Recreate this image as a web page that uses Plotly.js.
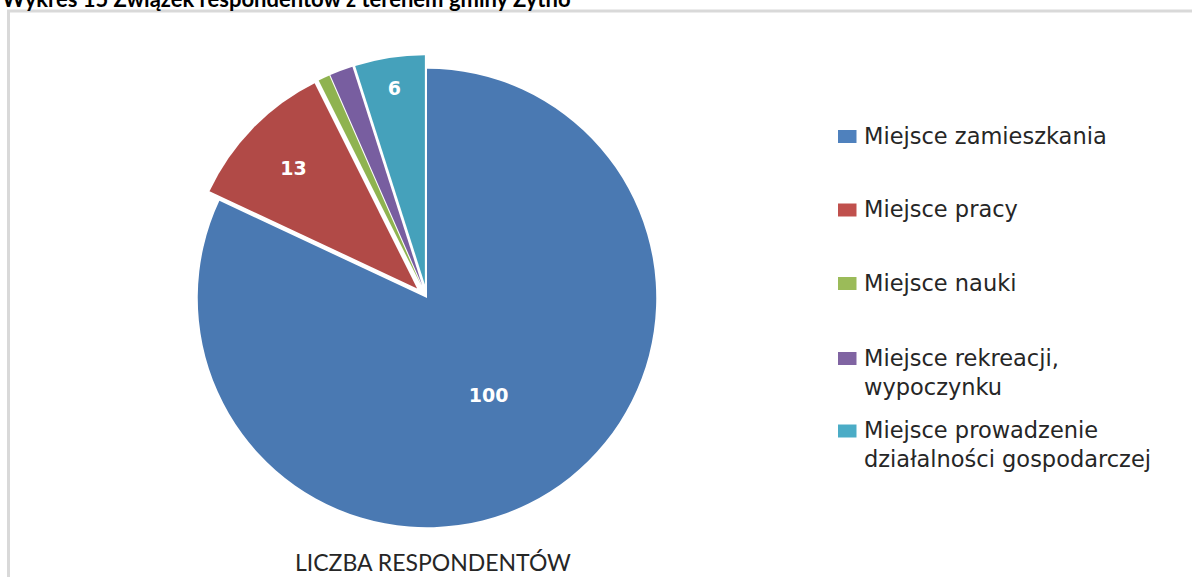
<!DOCTYPE html>
<html>
<head>
<meta charset="utf-8">
<script src="https://cdn.plot.ly/plotly-3.0.1.min.js"></script>
<style>
  html, body { margin: 0; padding: 0; background: #ffffff; }
  #chart { width: 1192px; height: 577px; }
</style>
</head>
<body>
<div id="chart"></div>
<script>
// ---- data ----
const chartTitle = 'Wykres 15 Związek respondentów z terenem gminy Żytno';
const seriesName = 'LICZBA RESPONDENTÓW';
const labels = [
  'Miejsce zamieszkania',
  'Miejsce pracy',
  'Miejsce nauki',
  'Miejsce rekreacji,<br>wypoczynku',
  'Miejsce prowadzenie<br>działalności gospodarczej'
];
const values = [100, 13, 1, 2, 6];

// ---- styles ----
const sliceColors = ['#4a79b2', '#b14a47', '#8fb350', '#785ea0', '#45a1bb'];
const keyColors   = ['#4f81bd', '#c0504d', '#9bbb59', '#8064a2', '#4bacc6'];

const W = 1192, H = 577;
const px = x => x / W;
const py = y => 1 - y / H;

// pie geometry (pixels)
const cx = 427, cy = 298, box = 486;

const pie = {
  type: 'pie',
  labels: labels,
  values: values,
  sort: false,
  direction: 'clockwise',
  rotation: 0,
  pull: values.map((v, i) => i === 0 ? 0 : 0.06),
  marker: { colors: sliceColors, line: { width: 0 } },
  texttemplate: values.map(v => v >= 5 ? '%{value}' : ''),
  textposition: 'inside',
  insidetextorientation: 'horizontal',
  textfont: { family: 'DejaVu Sans', size: 19, color: '#ffffff', weight: 'bold' },
  hoverinfo: 'label+value',
  showlegend: false,
  domain: {
    x: [px(cx - box / 2), px(cx + box / 2)],
    y: [py(cy + box / 2), py(cy - box / 2)]
  }
};

// legend drawn as keys + text
const keyY = [136.5, 210, 283.5, 358.5, 431];
const shapes = [
  { type: 'rect', xref: 'paper', yref: 'paper', layer: 'below',
    x0: px(8.5), x1: px(1205), y0: py(11), y1: py(600),
    line: { color: '#d9d9d9', width: 3 }, fillcolor: 'rgba(0,0,0,0)' }
];
const annotations = [
  { xref: 'paper', yref: 'paper', x: px(0), y: py(14), xanchor: 'left', yanchor: 'bottom',
    text: '<b>' + chartTitle + '</b>', showarrow: false,
    font: { family: 'Lato', size: 22, color: '#000000' } },
  { xref: 'paper', yref: 'paper', x: px(433), y: py(562), xanchor: 'center', yanchor: 'middle',
    text: seriesName, showarrow: false,
    font: { family: 'Lato', size: 23, color: '#262626' } }
];
labels.forEach((lab, i) => {
  shapes.push({ type: 'rect', xref: 'paper', yref: 'paper',
    x0: px(838), x1: px(856.5), y0: py(keyY[i] + 6.5), y1: py(keyY[i] - 6.5),
    line: { width: 0 }, fillcolor: keyColors[i] });
  annotations.push({ xref: 'paper', yref: 'paper', x: px(862), y: py(keyY[i] - 16),
    xanchor: 'left', yanchor: 'top', align: 'left', showarrow: false,
    text: lab, font: { family: 'DejaVu Sans', size: 22.5, color: '#262626' } });
});

const layout = {
  width: W, height: H,
  margin: { l: 0, r: 0, t: 0, b: 0 },
  paper_bgcolor: '#ffffff',
  plot_bgcolor: '#ffffff',
  showlegend: false,
  shapes: shapes,
  annotations: annotations
};

Plotly.newPlot('chart', [pie], layout, { displayModeBar: false, staticPlot: true });
</script>
</body>
</html>
